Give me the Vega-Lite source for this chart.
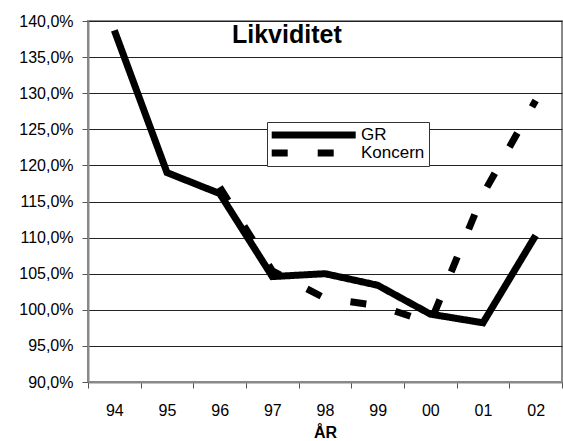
{
  "$schema": "https://vega.github.io/schema/vega-lite/v6.json",
  "width": 474,
  "height": 361,
  "autosize": "none",
  "padding": {"left": 88, "top": 21, "right": 1, "bottom": 59},
  "background": "white",
  "config": {
    "font": "Liberation Sans",
    "locale": {"number": {"decimal": ",", "thousands": ".", "grouping": [3], "currency": ["", " kr"]}},
    "view": {"stroke": "#888888", "strokeWidth": 2}
  },
  "title": {
    "text": "Likviditet",
    "font": "Liberation Sans",
    "fontSize": 25,
    "fontWeight": "bold",
    "color": "black",
    "anchor": "start",
    "frame": "group",
    "dx": 144,
    "offset": -55,
    "baseline": "alphabetic"
  },
  "data": {
    "values": [
      {"ar": "94", "serie": "GR", "v": 1.387},
      {"ar": "95", "serie": "GR", "v": 1.190},
      {"ar": "96", "serie": "GR", "v": 1.161},
      {"ar": "97", "serie": "GR", "v": 1.046},
      {"ar": "98", "serie": "GR", "v": 1.050},
      {"ar": "99", "serie": "GR", "v": 1.034},
      {"ar": "00", "serie": "GR", "v": 0.994},
      {"ar": "01", "serie": "GR", "v": 0.982},
      {"ar": "02", "serie": "GR", "v": 1.103},
      {"ar": "96", "serie": "Koncern", "v": 1.170},
      {"ar": "97", "serie": "Koncern", "v": 1.054},
      {"ar": "98", "serie": "Koncern", "v": 1.016},
      {"ar": "99", "serie": "Koncern", "v": 1.006},
      {"ar": "00", "serie": "Koncern", "v": 0.982},
      {"ar": "01", "serie": "Koncern", "v": 1.160},
      {"ar": "02", "serie": "Koncern", "v": 1.290}
    ]
  },
  "mark": {"type": "line", "strokeWidth": 7, "strokeCap": "butt", "strokeJoin": "miter", "color": "black"},
  "encoding": {
    "x": {
      "field": "ar",
      "type": "ordinal",
      "sort": ["94", "95", "96", "97", "98", "99", "00", "01", "02"],
      "scale": {"type": "band", "paddingInner": 0, "paddingOuter": 0},
      "axis": {
        "title": "ÅR",
        "titleFont": "Liberation Sans",
        "titleFontSize": 16,
        "titleFontWeight": "bold",
        "titleColor": "black",
        "titlePadding": 6,
        "labelAngle": 0,
        "labelFont": "Liberation Sans",
        "labelFontSize": 16,
        "labelColor": "black",
        "labelPadding": 14,
        "tickBand": "extent",
        "ticks": true,
        "tickSize": 6,
        "tickColor": "#555555",
        "domainColor": "#888888",
        "domainWidth": 2,
        "grid": false
      }
    },
    "y": {
      "field": "v",
      "type": "quantitative",
      "scale": {"domain": [0.9, 1.4], "nice": false, "zero": false},
      "axis": {
        "title": null,
        "format": ".1%",
        "values": [0.9, 0.95, 1.0, 1.05, 1.1, 1.15, 1.2, 1.25, 1.3, 1.35, 1.4],
        "labelFont": "Liberation Sans",
        "labelFontSize": 16,
        "labelColor": "black",
        "labelPadding": 9,
        "tickSize": 6,
        "tickColor": "#555555",
        "domainColor": "#888888",
        "domainWidth": 2,
        "grid": true,
        "gridColor": "#222222",
        "gridWidth": 1
      }
    },
    "strokeDash": {
      "field": "serie",
      "type": "nominal",
      "scale": {"domain": ["GR", "Koncern"], "range": [[1, 0], [16, 30]]},
      "legend": {
        "title": null,
        "orient": "none",
        "legendX": 179,
        "legendY": 101,
        "direction": "vertical",
        "fillColor": "white",
        "strokeColor": "#333333",
        "padding": 4,
        "symbolType": "M-1.4,0H10.6",
        "symbolSize": 196,
        "symbolStrokeWidth": 7,
        "symbolStrokeColor": "black",
        "labelFont": "Liberation Sans",
        "labelFontSize": 17,
        "labelColor": "black",
        "labelOffset": 69,
        "clipHeight": 18,
        "rowPadding": 0
      }
    }
  }
}
